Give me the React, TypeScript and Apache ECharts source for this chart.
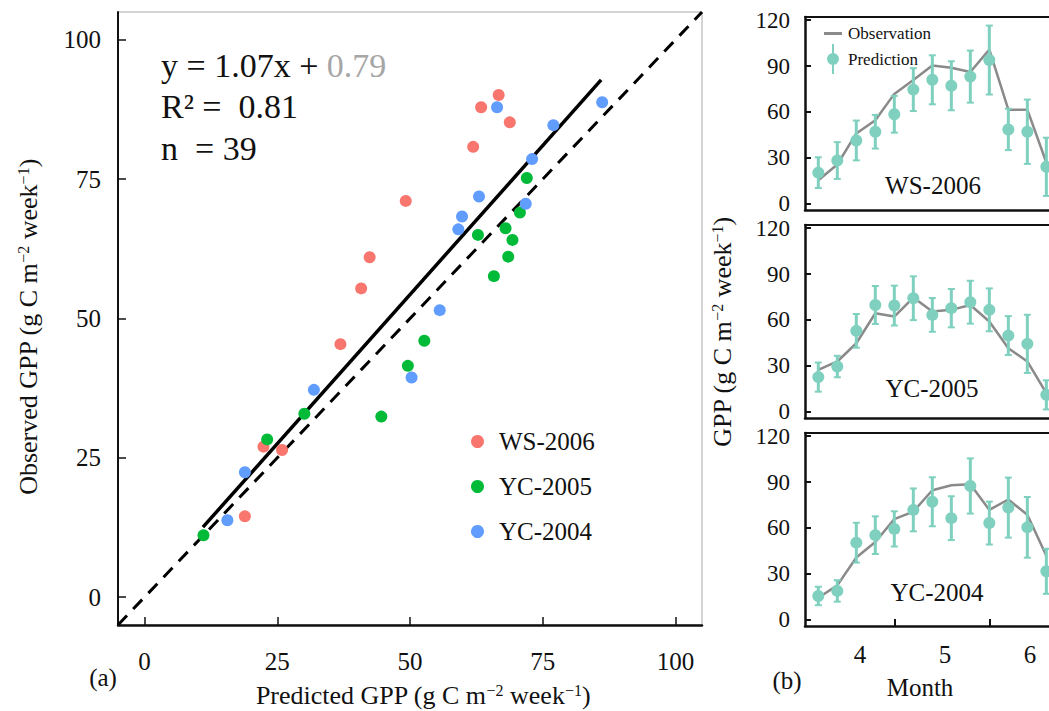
import React, { useEffect, useRef } from "react";
import * as echarts from "echarts";

const FONT = "Liberation Serif";
const INK = "#111111";

// ---------- Panel (a): predicted vs observed GPP ----------
const wsPredicted = [66.7, 63.4, 68.8, 61.9, 49.2, 42.4, 40.8, 36.9, 22.4, 25.9, 18.9];
const wsObserved = [90.1, 87.9, 85.2, 80.8, 71.1, 61.0, 55.4, 45.4, 27.0, 26.4, 14.5];
const yc05Predicted = [72.0, 70.7, 62.8, 68.0, 69.3, 68.5, 65.8, 52.7, 49.6, 30.1, 44.6, 23.1, 11.1];
const yc05Observed = [75.2, 69.0, 65.0, 66.2, 64.1, 61.1, 57.6, 46.0, 41.5, 32.9, 32.4, 28.3, 11.1];
const yc04Predicted = [66.4, 86.2, 77.0, 73.0, 63.0, 71.8, 59.8, 59.1, 55.6, 50.3, 31.9, 18.9, 15.6];
const yc04Observed = [87.9, 88.8, 84.7, 78.6, 71.9, 70.6, 68.3, 66.0, 51.5, 39.4, 37.2, 22.4, 13.8];
const scatterTicks = [0, 25, 50, 75, 100];
const scatterRange = [-5, 105];
const fitSlope = 1.07;
const fitIntercept = 0.79;
const fitXRange = [11, 86];
const oneToOneRange = [-5, 105];

// ---------- Panel (b): weekly time series ----------
const weeks = [1, 2, 3, 4, 5, 6, 7, 8, 9, 10, 11, 12, 13];
const monthTickWeeks = [5, 10];
const monthLabelWeeks = [3.2, 7.67, 12.14];
const monthLabels = ["4", "5", "6"];
const gppTicks = [0, 30, 60, 90, 120];

const ws06Obs = [15.4, 25.7, 46.0, 54.6, 71.8, 80.8, 90.4, 88.9, 86.1, 100.7, 61.5, 61.5, 27.0];
const ws06Pred = [20.4, 28.3, 41.4, 47.1, 58.5, 74.6, 81.0, 77.1, 83.1, 93.9, 48.6, 47.1, 24.2];
const ws06Err = [10, 12, 13, 11, 12, 14, 16, 16, 17, 22.5, 13.5, 21, 19];

const yc05Obs = [27.4, 32.9, 44.8, 64.4, 62.2, 74.6, 65.5, 66.6, 69.8, 59.0, 41.6, 32.9, 12.2];
const yc05Pred = [22.7, 29.6, 52.9, 69.8, 69.4, 74.2, 63.3, 67.7, 71.6, 66.6, 49.8, 44.4, 11.1];
const yc05Err = [9.5, 7, 11, 12.4, 13, 14.3, 11, 12.5, 14, 14, 12.7, 19, 9.5];

const yc04Obs = [14.4, 22.5, 40.7, 50.8, 65.8, 70.7, 84.6, 87.9, 88.5, 71.8, 78.6, 68.6, 41.8];
const yc04Pred = [15.6, 18.9, 50.4, 55.3, 59.4, 71.8, 77.1, 66.4, 87.4, 63.2, 73.3, 60.4, 31.7];
const yc04Err = [6, 7, 13, 12.3, 11.5, 14, 16, 14.3, 18, 14, 19.6, 19.8, 14.7];

const panelNames = ["WS-2006", "YC-2005", "YC-2004"];

const RED = "#F8766D";
const GREEN = "#00BA38";
const BLUE = "#619CFF";
const TEAL = "#7FD0BF";
const GRAY = "#8A8A8A";

const pairs = (xs: number[], ys: number[]) => xs.map((x, i) => [x, ys[i]]);

function App() {
  const ref = useRef<HTMLDivElement>(null);

  useEffect(() => {
    if (!ref.current) return;
    const chart = echarts.init(ref.current, undefined, { renderer: "svg" });

    const panels = [
      { obs: ws06Obs, pred: ws06Pred, err: ws06Err },
      { obs: yc05Obs, pred: yc05Pred, err: yc05Err },
      { obs: yc04Obs, pred: yc04Pred, err: yc04Err },
    ];
    const panelTops = [17, 225, 433];

    const grids: any[] = [
      { left: 118, top: 12, width: 584, height: 613, show: true, borderColor: "#a8a8a8", borderWidth: 1 },
      ...panelTops.map((t) => ({ left: 805, top: t, width: 244, height: 193, show: false })),
    ];

    const xAxes: any[] = [
      {
        type: "value", gridIndex: 0, min: scatterRange[0], max: scatterRange[1],
        axisLine: { onZero: false, lineStyle: { color: INK, width: 2.5 } },
        axisTick: { inside: true, length: 8, customValues: scatterTicks, lineStyle: { color: INK, width: 1.5 } },
        axisLabel: { customValues: scatterTicks, fontSize: 25, margin: 24, color: INK, fontFamily: FONT },
        splitLine: { show: false },
      },
      ...[1, 2, 3].map((g) => ({
        type: "value", gridIndex: g, min: 0.3, max: 13.14,
        axisLine: { onZero: false, lineStyle: { color: INK, width: 2.5 } },
        axisTick: g === 3
          ? { show: true, inside: true, length: 7, customValues: monthTickWeeks, lineStyle: { color: INK, width: 2 } }
          : { show: false },
        axisLabel: g === 3
          ? {
              customValues: monthLabelWeeks, fontSize: 25, margin: 16, color: INK, fontFamily: FONT,
              formatter: (v: number) => {
                const i = monthLabelWeeks.findIndex((w) => Math.abs(w - v) < 0.01);
                return i >= 0 ? monthLabels[i] : "";
              },
            }
          : { show: false },
        splitLine: { show: false },
      })),
      // top border lines of the three right-hand panels
      ...[1, 2, 3].map((g) => ({
        type: "value", gridIndex: g, min: 0.3, max: 13.14, position: "top",
        axisLine: { show: true, onZero: false, lineStyle: { color: INK, width: 2 } },
        axisTick: { show: false }, axisLabel: { show: false }, splitLine: { show: false },
      })),
    ];

    const yAxes: any[] = [
      {
        type: "value", gridIndex: 0, min: scatterRange[0], max: scatterRange[1],
        axisLine: { onZero: false, lineStyle: { color: INK, width: 2 } },
        axisTick: { inside: true, length: 8, customValues: scatterTicks, lineStyle: { color: INK, width: 1.5 } },
        axisLabel: { customValues: scatterTicks, fontSize: 25, margin: 17, color: INK, fontFamily: FONT },
        splitLine: { show: false },
      },
      ...[1, 2, 3].map((g) => ({
        type: "value", gridIndex: g, min: -4, max: 122,
        axisLine: { onZero: false, lineStyle: { color: INK, width: 2.5 } },
        axisTick: { inside: true, length: 6, customValues: gppTicks, lineStyle: { color: INK, width: 2 } },
        axisLabel: { customValues: gppTicks, fontSize: 23, lineHeight: 18, margin: 15, color: INK, fontFamily: FONT },
        splitLine: { show: false },
      })),
    ];

    const scatterBase = {
      type: "scatter", xAxisIndex: 0, yAxisIndex: 0, symbolSize: 12, z: 5,
    };

    const series: any[] = [
      {
        name: "1:1", type: "line", xAxisIndex: 0, yAxisIndex: 0, symbol: "none", z: 3,
        data: [[oneToOneRange[0], oneToOneRange[0]], [oneToOneRange[1], oneToOneRange[1]]],
        lineStyle: { color: "#000", width: 3, type: [13, 9] },
      },
      {
        name: "Fit", type: "line", xAxisIndex: 0, yAxisIndex: 0, symbol: "none", z: 4,
        data: fitXRange.map((x) => [x, fitSlope * x + fitIntercept]),
        lineStyle: { color: "#000", width: 3.5 },
      },
      { ...scatterBase, name: "WS-2006", data: pairs(wsPredicted, wsObserved), itemStyle: { color: RED, opacity: 1 } },
      { ...scatterBase, name: "YC-2005", data: pairs(yc05Predicted, yc05Observed), itemStyle: { color: GREEN, opacity: 1 } },
      { ...scatterBase, name: "YC-2004", data: pairs(yc04Predicted, yc04Observed), itemStyle: { color: BLUE, opacity: 1 } },
    ];

    panels.forEach((p, k) => {
      const ai = k + 1;
      series.push({
        name: "Observation", type: "line", xAxisIndex: ai, yAxisIndex: ai, symbol: "none", z: 2,
        data: pairs(weeks, p.obs), color: GRAY,
        lineStyle: { color: GRAY, width: 2.5 },
      });
      series.push({
        name: "PredictionError", type: "custom", xAxisIndex: ai, yAxisIndex: ai, z: 3,
        data: weeks.map((w, i) => [w, p.pred[i], p.err[i]]),
        encode: { x: 0, y: 1 },
        renderItem: (params: any, api: any) => {
          const x = api.value(0);
          const y = api.value(1);
          const e = api.value(2);
          const top = api.coord([x, y + e]);
          const bot = api.coord([x, y - e]);
          const cap = 3.5;
          const st = { stroke: TEAL, lineWidth: 3 };
          return {
            type: "group",
            children: [
              { type: "line", shape: { x1: top[0], y1: top[1], x2: bot[0], y2: bot[1] }, style: st },
              { type: "line", shape: { x1: top[0] - cap, y1: top[1], x2: top[0] + cap, y2: top[1] }, style: { ...st, lineWidth: 2 } },
              { type: "line", shape: { x1: bot[0] - cap, y1: bot[1], x2: bot[0] + cap, y2: bot[1] }, style: { ...st, lineWidth: 2 } },
            ],
          };
        },
      });
      series.push({
        name: "Prediction", type: "scatter", xAxisIndex: ai, yAxisIndex: ai, z: 4, symbolSize: 12,
        data: pairs(weeks, p.pred), itemStyle: { color: TEAL, opacity: 1 },
      });
    });

    const supRich = (size: number) => ({
      sup: { fontSize: size, fontFamily: FONT, fill: INK, verticalAlign: "top", lineHeight: size },
    });

    const bigText = (text: string, top: number, rich?: any) => ({
      type: "text", left: 161, top,
      style: { text, fontSize: 34, fontFamily: FONT, fill: INK, ...(rich ? { rich } : {}) },
    });

    const graphic: any[] = [
      bigText("y = 1.07x + {g|0.79}", 48, { g: { fill: "#a6a6a6", fontSize: 34, fontFamily: FONT } }),
      bigText("R\u00B2 =  0.81", 89),
      bigText("n  = 39", 131),
      {
        type: "text", x: 28, y: 327, rotation: Math.PI / 2,
        style: {
          text: "Observed GPP (g C m{sup|\u22122} week{sup|\u22121})", fontSize: 26, fontFamily: FONT, fill: INK,
          align: "center", verticalAlign: "middle", rich: supRich(16),
        },
      },
      {
        type: "text", x: 423, y: 695,
        style: {
          text: "Predicted GPP (g C m{sup|\u22122} week{sup|\u22121})", fontSize: 26, fontFamily: FONT, fill: INK,
          align: "center", verticalAlign: "middle", rich: supRich(16),
        },
      },
      { type: "text", x: 103, y: 677, style: { text: "(a)", fontSize: 25, fontFamily: FONT, fill: INK, align: "center", verticalAlign: "middle" } },
      {
        type: "text", x: 722, y: 332, rotation: Math.PI / 2,
        style: {
          text: "GPP (g C m{sup|\u22122} week{sup|\u22121})", fontSize: 26, fontFamily: FONT, fill: INK,
          align: "center", verticalAlign: "middle", rich: supRich(16),
        },
      },
      { type: "text", x: 787, y: 680, style: { text: "(b)", fontSize: 25, fontFamily: FONT, fill: INK, align: "center", verticalAlign: "middle" } },
      { type: "text", x: 920, y: 687, style: { text: "Month", fontSize: 25, fontFamily: FONT, fill: INK, align: "center", verticalAlign: "middle" } },
      ...panelNames.map((n, k) => ({
        type: "text", x: [933, 932, 937][k], y: [185, 388, 592][k],
        style: { text: n, fontSize: 25, fontFamily: FONT, fill: INK, align: "center", verticalAlign: "middle" },
      })),
    ];

    chart.setOption({
      animation: false,
      backgroundColor: "#ffffff",
      textStyle: { fontFamily: FONT },
      grid: grids,
      xAxis: xAxes,
      yAxis: yAxes,
      legend: [
        {
          data: ["WS-2006", "YC-2005", "YC-2004"], orient: "vertical", left: 466, top: 424,
          icon: "circle", itemWidth: 13, itemHeight: 13, itemGap: 20, selectedMode: false,
          textStyle: { fontSize: 25, fontFamily: FONT, color: INK, padding: [0, 0, 0, 10] },
        },
        {
          data: ["Observation"], left: 819, top: 20, icon: "rect", itemWidth: 18, itemHeight: 3, selectedMode: false,
          textStyle: { fontSize: 17, fontFamily: FONT, color: INK, padding: [0, 0, 0, 1] },
        },
        {
          data: ["Prediction"], left: 822, top: 39, itemWidth: 12, itemHeight: 30, selectedMode: false,
          icon: "path://M9,0 L11,0 L11,30 L9,30 Z M16,15 A6,6 0 1 1 4,15 A6,6 0 1 1 16,15 Z",
          textStyle: { fontSize: 17, fontFamily: FONT, color: INK, padding: [0, 0, 0, 4] },
        },
      ],
      graphic,
      series,
    });

    return () => chart.dispose();
  }, []);

  return (
    <div
      ref={ref}
      style={{ position: "fixed", left: 0, top: 0, width: 1049, height: 711, background: "#fff" }}
    />
  );
}

export default App;
